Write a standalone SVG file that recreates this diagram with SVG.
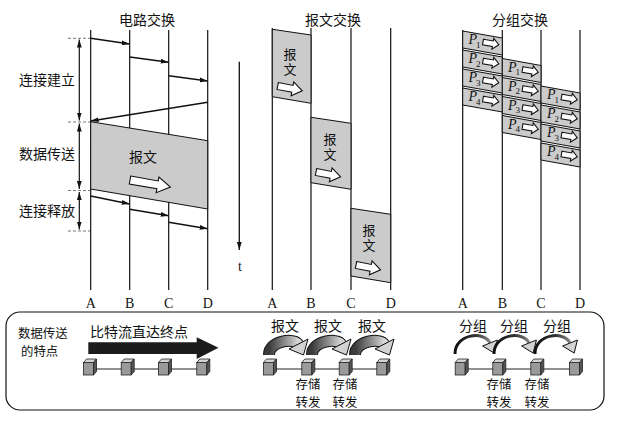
<svg xmlns="http://www.w3.org/2000/svg" width="639" height="424" viewBox="0 0 639 424">
<style>
.zh{font-family:"Noto Sans CJK SC","Noto Sans",sans-serif;font-size:14px;fill:#111}
.zs{font-family:"Noto Sans CJK SC","Noto Sans",sans-serif;font-size:12.4px;fill:#111}
.zv{font-family:"Noto Sans CJK SC","Noto Sans",sans-serif;font-size:13px;fill:#111;writing-mode:vertical-rl;letter-spacing:2px}
.lat{font-family:"Liberation Serif",serif;font-size:14px;fill:#111}
.vl{stroke:#111;stroke-width:1.2;fill:none}
.ar{stroke:#111;stroke-width:1.5;fill:none;marker-end:url(#ah)}
.shade{fill:#cbcbcb;stroke:#111;stroke-width:1}
.hollow{fill:#fff;stroke:#111;stroke-width:1.1}
.tick{stroke:#777;stroke-width:1;stroke-dasharray:3 2}
.pk{fill:#cbcbcb;stroke:#111;stroke-width:1}
.pt{font-family:"Liberation Serif",serif;font-style:italic;font-size:14px;fill:#111}
.ps{font-family:"Liberation Serif",serif;font-size:9px;fill:#111}
.link{stroke:#222;stroke-width:1}
.rib-o{fill:none;stroke:#111;stroke-width:12}
.rib-i{fill:none;stroke:url(#rib);stroke-width:10}
.rhead{fill:#d2d2d2;stroke:#111;stroke-width:1}
.thin{fill:none;stroke:url(#thin);stroke-width:3}
</style>
<defs>
<marker id="ah" viewBox="0 0 10 6" refX="10" refY="3" markerWidth="8" markerHeight="5" markerUnits="userSpaceOnUse" orient="auto-start-reverse"><path d="M0,0 L10,3 L0,6 Z" fill="#111"/></marker>
<linearGradient id="rib" x1="0" y1="0" x2="1" y2="0"><stop offset="0" stop-color="#3a3a3a"/><stop offset="0.55" stop-color="#8c8c8c"/><stop offset="1" stop-color="#d6d6d6"/></linearGradient>
<linearGradient id="thin" x1="0" y1="0" x2="1" y2="0"><stop offset="0" stop-color="#111"/><stop offset="0.6" stop-color="#333"/><stop offset="1" stop-color="#888"/></linearGradient>
<path id="bigArrow" d="M0,-4 L28,-4 L28,-8 L41,0 L28,8 L28,4 L0,4 Z"/>
<path id="midArrow" d="M0,-3.5 L15,-3.5 L15,-7 L25,0 L15,7 L15,3.5 L0,3.5 Z"/>
<path id="pkArrow" d="M0,-2.8 L10,-2.8 L10,-5.5 L16,0 L10,5.5 L10,2.8 L0,2.8 Z"/>
<g id="cube">
<rect x="-6.5" y="-4.5" width="10" height="12.5" fill="#9a9a9a" stroke="#222" stroke-width="0.8"/>
<polygon points="-6.5,-4.5 -3.5,-8 6.5,-8 3.5,-4.5" fill="#d4d4d4" stroke="#222" stroke-width="0.8"/>
<polygon points="3.5,-4.5 6.5,-8 6.5,4.5 3.5,8" fill="#555" stroke="#222" stroke-width="0.8"/>
</g>
</defs>
<rect width="639" height="424" fill="#fff"/>

<!-- Circuit switching -->
<g id="circuit">
<text class="zh" x="147" y="25" text-anchor="middle">电路交换</text>
<g id="circuit-lines">
<line class="vl" x1="90.7" y1="30" x2="90.7" y2="290"/>
<line class="vl" x1="129.7" y1="30" x2="129.7" y2="290"/>
<line class="vl" x1="168.7" y1="30" x2="168.7" y2="290"/>
<line class="vl" x1="207.7" y1="30" x2="207.7" y2="290"/>
</g>
<g id="circuit-data">
<polygon class="shade" points="90.7,121.7 207.7,140.7 207.7,209 90.7,189"/>
<text class="zh" x="143" y="162" text-anchor="middle">报文</text>
<use href="#bigArrow" class="hollow" transform="translate(130,180) rotate(10)"/>
</g>
<g id="circuit-connectors">
<line class="ar" x1="90.7" y1="38.3" x2="129.7" y2="44"/>
<line class="ar" x1="129.7" y1="57" x2="168.7" y2="62.3"/>
<line class="ar" x1="168.7" y1="75.7" x2="207.7" y2="81"/>
<line class="ar" x1="207.7" y1="102.3" x2="90.7" y2="121"/>
<line class="ar" x1="90.7" y1="196" x2="129.7" y2="204"/>
<line class="ar" x1="129.7" y1="209.3" x2="168.7" y2="215.7"/>
<line class="ar" x1="168.7" y1="222.3" x2="207.7" y2="228.7"/>
</g>
<g id="circuit-phases">
<line class="tick" x1="68" y1="38.3" x2="90" y2="38.3"/>
<line class="tick" x1="68" y1="122" x2="90" y2="122"/>
<line class="tick" x1="68" y1="190.5" x2="90" y2="190.5"/>
<line class="tick" x1="68" y1="231" x2="90" y2="231"/>
<line x1="79.3" y1="39.5" x2="79.3" y2="120.5" stroke="#111" stroke-width="1.2" marker-start="url(#ah)" marker-end="url(#ah)"/>
<line x1="79.3" y1="123.5" x2="79.3" y2="189" stroke="#111" stroke-width="1.2" marker-start="url(#ah)" marker-end="url(#ah)"/>
<line x1="79.3" y1="192" x2="79.3" y2="229.5" stroke="#111" stroke-width="1.2" marker-start="url(#ah)" marker-end="url(#ah)"/>
<text class="zh" x="47" y="85" text-anchor="middle">连接建立</text>
<text class="zh" x="47" y="159" text-anchor="middle">数据传送</text>
<text class="zh" x="47" y="216" text-anchor="middle">连接释放</text>
</g>
<g id="circuit-labels">
<text class="lat" x="90.7" y="308" text-anchor="middle">A</text>
<text class="lat" x="129.7" y="308" text-anchor="middle">B</text>
<text class="lat" x="168.7" y="308" text-anchor="middle">C</text>
<text class="lat" x="207.7" y="308" text-anchor="middle">D</text>
</g>
</g>

<!-- Message switching -->
<g id="message">
<text class="zh" x="333" y="25" text-anchor="middle">报文交换</text>
<g id="message-lines">
<line class="vl" x1="272.3" y1="28" x2="272.3" y2="290"/>
<line class="vl" x1="311" y1="28" x2="311" y2="290"/>
<line class="vl" x1="351" y1="28" x2="351" y2="290"/>
<line class="vl" x1="390.7" y1="28" x2="390.7" y2="290"/>
</g>
<g id="msg1">
<polygon class="shade" points="272.3,29.3 311,35 311,103.3 272.3,96.7"/>
<text class="zv" x="290" y="48">报文</text>
<use href="#midArrow" class="hollow" transform="translate(277.7,86) rotate(11)"/>
</g>
<g id="msg2">
<polygon class="shade" points="311,117.3 351,123.3 351,189.3 311,182.7"/>
<text class="zv" x="330" y="133">报文</text>
<use href="#midArrow" class="hollow" transform="translate(316,172) rotate(11)"/>
</g>
<g id="msg3">
<polygon class="shade" points="351,208.3 390.7,214.3 390.7,282.7 351,276"/>
<text class="zv" x="369" y="224">报文</text>
<use href="#midArrow" class="hollow" transform="translate(356,265) rotate(11)"/>
</g>
<g id="time-axis">
<line x1="239.3" y1="61.7" x2="239.3" y2="250" stroke="#111" stroke-width="1.3" marker-end="url(#ah)"/>
<text class="lat" x="240" y="271" text-anchor="middle">t</text>
</g>
<g id="message-labels">
<text class="lat" x="272.3" y="308" text-anchor="middle">A</text>
<text class="lat" x="311" y="308" text-anchor="middle">B</text>
<text class="lat" x="351" y="308" text-anchor="middle">C</text>
<text class="lat" x="390.7" y="308" text-anchor="middle">D</text>
</g>
</g>

<!-- Packet switching -->
<g id="packet">
<text class="zh" x="520" y="25" text-anchor="middle">分组交换</text>
<g id="packet-lines">
<line class="vl" x1="462.7" y1="30" x2="462.7" y2="290"/>
<line class="vl" x1="502.3" y1="30" x2="502.3" y2="290"/>
<line class="vl" x1="541" y1="30" x2="541" y2="290"/>
<line class="vl" x1="580" y1="30" x2="580" y2="290"/>
</g>
<g id="packets-AB">
<g><polygon class="pk" points="462.7,31 502.3,38 502.3,55 462.7,48"/><text class="pt" x="468.5" y="44.3">P</text><text class="ps" x="476" y="47.7">1</text><use href="#pkArrow" class="hollow" transform="translate(483,42) rotate(10)"/></g>
<g><polygon class="pk" points="462.7,50 502.3,57 502.3,74 462.7,67"/><text class="pt" x="468.5" y="63.3">P</text><text class="ps" x="476" y="66.7">2</text><use href="#pkArrow" class="hollow" transform="translate(483,61) rotate(10)"/></g>
<g><polygon class="pk" points="462.7,69 502.3,76 502.3,93 462.7,86"/><text class="pt" x="468.5" y="82.3">P</text><text class="ps" x="476" y="85.7">3</text><use href="#pkArrow" class="hollow" transform="translate(483,80) rotate(10)"/></g>
<g><polygon class="pk" points="462.7,88 502.3,95 502.3,112 462.7,105"/><text class="pt" x="468.5" y="101.3">P</text><text class="ps" x="476" y="104.7">4</text><use href="#pkArrow" class="hollow" transform="translate(483,99) rotate(10)"/></g>
</g>
<g id="packets-BC">
<g><polygon class="pk" points="502.3,58.5 541,65.5 541,82.5 502.3,75.5"/><text class="pt" x="508" y="71.8">P</text><text class="ps" x="515.5" y="75.2">1</text><use href="#pkArrow" class="hollow" transform="translate(522.5,69.5) rotate(10)"/></g>
<g><polygon class="pk" points="502.3,77.5 541,84.5 541,101.5 502.3,94.5"/><text class="pt" x="508" y="90.8">P</text><text class="ps" x="515.5" y="94.2">2</text><use href="#pkArrow" class="hollow" transform="translate(522.5,88.5) rotate(10)"/></g>
<g><polygon class="pk" points="502.3,96.5 541,103.5 541,120.5 502.3,113.5"/><text class="pt" x="508" y="109.8">P</text><text class="ps" x="515.5" y="113.2">3</text><use href="#pkArrow" class="hollow" transform="translate(522.5,107.5) rotate(10)"/></g>
<g><polygon class="pk" points="502.3,115.5 541,122.5 541,139.5 502.3,132.5"/><text class="pt" x="508" y="128.8">P</text><text class="ps" x="515.5" y="132.2">4</text><use href="#pkArrow" class="hollow" transform="translate(522.5,126.5) rotate(10)"/></g>
</g>
<g id="packets-CD">
<g><polygon class="pk" points="541,86 580,93 580,110 541,103"/><text class="pt" x="547" y="99.3">P</text><text class="ps" x="554.5" y="102.7">1</text><use href="#pkArrow" class="hollow" transform="translate(561.5,97) rotate(10)"/></g>
<g><polygon class="pk" points="541,105 580,112 580,129 541,122"/><text class="pt" x="547" y="118.3">P</text><text class="ps" x="554.5" y="121.7">2</text><use href="#pkArrow" class="hollow" transform="translate(561.5,116) rotate(10)"/></g>
<g><polygon class="pk" points="541,124 580,131 580,148 541,141"/><text class="pt" x="547" y="137.3">P</text><text class="ps" x="554.5" y="140.7">3</text><use href="#pkArrow" class="hollow" transform="translate(561.5,135) rotate(10)"/></g>
<g><polygon class="pk" points="541,143 580,150 580,167 541,160"/><text class="pt" x="547" y="156.3">P</text><text class="ps" x="554.5" y="159.7">4</text><use href="#pkArrow" class="hollow" transform="translate(561.5,154) rotate(10)"/></g>
</g>
<g id="packet-labels">
<text class="lat" x="462.7" y="308" text-anchor="middle">A</text>
<text class="lat" x="502.3" y="308" text-anchor="middle">B</text>
<text class="lat" x="541" y="308" text-anchor="middle">C</text>
<text class="lat" x="580" y="308" text-anchor="middle">D</text>
</g>
</g>

<!-- Bottom summary -->
<g id="summary">
<rect x="6" y="312" width="598" height="98" rx="14" ry="14" fill="none" stroke="#111" stroke-width="1.2"/>
<text class="zs" x="18" y="338">数据传送</text>
<text class="zs" x="21" y="356">的特点</text>

<g id="sum-circuit">
<text class="zh" x="90" y="337">比特流直达终点</text>
<polygon points="88.3,342.3 196.7,342.3 196.7,337.3 218.5,347.7 196.7,359 196.7,354 88.3,354" fill="#1c1c1c"/>
<line class="link" x1="90" y1="369" x2="203.3" y2="369"/>
<use href="#cube" transform="translate(90,367)"/>
<use href="#cube" transform="translate(127.7,367)"/>
<use href="#cube" transform="translate(165,367)"/>
<use href="#cube" transform="translate(203.3,367)"/>
</g>

<g id="sum-message">
<text class="zh" x="285" y="331" text-anchor="middle">报文</text>
<text class="zh" x="328" y="331" text-anchor="middle">报文</text>
<text class="zh" x="372" y="331" text-anchor="middle">报文</text>
<g id="sum-message-arcs">
<path class="rib-o" d="M269,355 C269,340 295,338 298,344"/>
<path class="rib-i" d="M269,355 C269,340 295,338 298,344"/>
<polygon class="rhead" points="289,349 308,339 303.5,355"/>
<path class="rib-o" d="M312,355 C312,340 338,338 341,344"/>
<path class="rib-i" d="M312,355 C312,340 338,338 341,344"/>
<polygon class="rhead" points="332,349 351,339 346.5,355"/>
<path class="rib-o" d="M355,355 C355,340 381,338 384,344"/>
<path class="rib-i" d="M355,355 C355,340 381,338 384,344"/>
<polygon class="rhead" points="375,349 394,339 389.5,355"/>
</g>
<line class="link" x1="270" y1="369" x2="383.3" y2="369"/>
<use href="#cube" transform="translate(270,367)"/>
<use href="#cube" transform="translate(308.3,367)"/>
<use href="#cube" transform="translate(345.7,367)"/>
<use href="#cube" transform="translate(383.3,367)"/>
<text class="zs" x="308" y="389" text-anchor="middle">存储</text>
<text class="zs" x="308" y="407" text-anchor="middle">转发</text>
<text class="zs" x="345" y="389" text-anchor="middle">存储</text>
<text class="zs" x="345" y="407" text-anchor="middle">转发</text>
</g>

<g id="sum-packet">
<text class="zh" x="473" y="331" text-anchor="middle">分组</text>
<text class="zh" x="514" y="331" text-anchor="middle">分组</text>
<text class="zh" x="557" y="331" text-anchor="middle">分组</text>
<g id="sum-packet-arcs">
<path class="thin" d="M455,354 C455,333 485,331 490,343"/>
<polygon class="rhead" points="482.6,346 497.4,340 494.2,353.1"/>
<path class="thin" d="M494,354 C494,333 524,331 529,343"/>
<polygon class="rhead" points="521.6,346 536.4,340 533.2,353.1"/>
<path class="thin" d="M535,354 C535,333 565,331 570,343"/>
<polygon class="rhead" points="562.6,346 577.4,340 574.2,353.1"/>
</g>
<line class="link" x1="461.7" y1="369" x2="576" y2="369"/>
<use href="#cube" transform="translate(461.7,367)"/>
<use href="#cube" transform="translate(499.3,367)"/>
<use href="#cube" transform="translate(537.3,367)"/>
<use href="#cube" transform="translate(576,367)"/>
<text class="zs" x="499" y="389" text-anchor="middle">存储</text>
<text class="zs" x="499" y="407" text-anchor="middle">转发</text>
<text class="zs" x="537" y="389" text-anchor="middle">存储</text>
<text class="zs" x="537" y="407" text-anchor="middle">转发</text>
</g>
</g>
</svg>
